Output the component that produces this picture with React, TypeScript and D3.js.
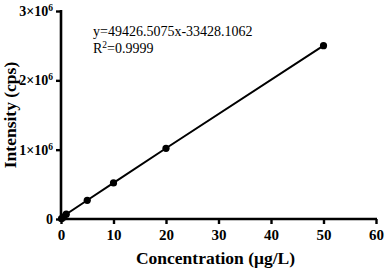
import * as d3 from "d3";
import { useEffect, useRef } from "react";

// concentration (µg/L) and intensity (cps)
const concentrations = [0.1, 0.5, 1, 5, 10, 20, 50];
const intensities = [5000, 30000, 70000, 270000, 520000, 1020000, 2500000];
const xTicks = [0, 10, 20, 30, 40, 50, 60];
const yTicks = [0, 1e6, 2e6, 3e6];
const equationText = "y=49426.5075x-33428.1062";
const r2Text = "0.9999";

const width = 385;
const height = 270;
const margin = { top: 11, right: 9, bottom: 51, left: 61 };
const font = "'Liberation Serif', 'Times New Roman', serif";

export default function App() {
  const ref = useRef<SVGSVGElement>(null);

  useEffect(() => {
    const svg = d3.select(ref.current);
    svg.selectAll("*").remove();

    const xScale = d3
      .scaleLinear()
      .domain([0, 60])
      .range([margin.left, width - margin.right]);
    const yScale = d3
      .scaleLinear()
      .domain([0, 3e6])
      .range([height - margin.bottom, margin.top]);

    const points = concentrations.map((c, i) => ({ x: c, y: intensities[i] }));

    // line through the points
    const line = d3
      .line<{ x: number; y: number }>()
      .x((d) => xScale(d.x))
      .y((d) => yScale(d.y));

    svg
      .append("path")
      .datum([{ x: 0, y: 0 }, ...points])
      .attr("d", line)
      .attr("fill", "none")
      .attr("stroke", "black")
      .attr("stroke-width", 2);

    svg
      .selectAll(".dot")
      .data(points)
      .enter()
      .append("circle")
      .attr("class", "dot")
      .attr("cx", (d) => xScale(d.x))
      .attr("cy", (d) => yScale(d.y))
      .attr("r", 3.6)
      .attr("fill", "black");

    // x axis
    const xAxis = svg
      .append("g")
      .attr("transform", `translate(0,${height - margin.bottom})`)
      .call(d3.axisBottom(xScale).tickValues(xTicks).tickSize(5).tickPadding(5).tickSizeOuter(0));
    xAxis.select(".domain").attr("stroke-width", 2.6).attr("d", `M${margin.left - 2},0H${width - margin.right + 1}`);
    xAxis.selectAll(".tick line").attr("stroke-width", 2.4);
    xAxis
      .selectAll(".tick text")
      .attr("font-family", font)
      .attr("font-size", 15)
      .attr("font-weight", "bold")
      .attr("fill", "black");

    // y axis
    const yAxis = svg
      .append("g")
      .attr("transform", `translate(${margin.left},0)`)
      .call(d3.axisLeft(yScale).tickValues(yTicks).tickSize(5).tickPadding(4).tickSizeOuter(0).tickFormat(() => ""));
    yAxis.select(".domain").attr("stroke-width", 2.6).attr("d", `M0,${height - margin.bottom + 1}V${margin.top - 1}`);
    yAxis.selectAll(".tick line").attr("stroke-width", 2.4);
    const yLabels = yAxis
      .selectAll(".tick text")
      .attr("font-family", font)
      .attr("font-size", 14)
      .attr("font-weight", "bold")
      .attr("fill", "black")
      .attr("x", -8);
    yLabels.each(function (d: any) {
      const t = d3.select(this);
      if (d === 0) {
        t.text("0");
      } else {
        t.append("tspan").text(`${d / 1e6}×10`);
        t.append("tspan").attr("dy", -5).attr("font-size", 9.5).text("6");
      }
    });

    // axis titles
    svg
      .append("text")
      .attr("x", (margin.left + width - margin.right) / 2 - 3)
      .attr("y", 264)
      .attr("text-anchor", "middle")
      .attr("font-family", font)
      .attr("font-size", 17.5)
      .attr("font-weight", "bold")
      .text("Concentration (μg/L)");

    svg
      .append("text")
      .attr("transform", `translate(16,${(margin.top + height - margin.bottom) / 2}) rotate(-90)`)
      .attr("text-anchor", "middle")
      .attr("font-family", font)
      .attr("font-size", 17.5)
      .attr("font-weight", "bold")
      .text("Intensity (cps)");

    // regression annotation
    svg
      .append("text")
      .attr("x", 93)
      .attr("y", 36)
      .attr("font-family", font)
      .attr("font-size", 14)
      .text(equationText);

    const r2 = svg
      .append("text")
      .attr("x", 93)
      .attr("y", 53)
      .attr("font-family", font)
      .attr("font-size", 14);
    r2.append("tspan").text("R");
    r2.append("tspan").attr("dy", -5).attr("font-size", 9.5).text("2");
    r2.append("tspan").attr("dy", 5).text("=" + r2Text);
  }, []);

  return (
    <svg
      ref={ref}
      width={width}
      height={height}
      style={{ position: "absolute", left: 0, top: 0, background: "white" }}
    ></svg>
  );
}
